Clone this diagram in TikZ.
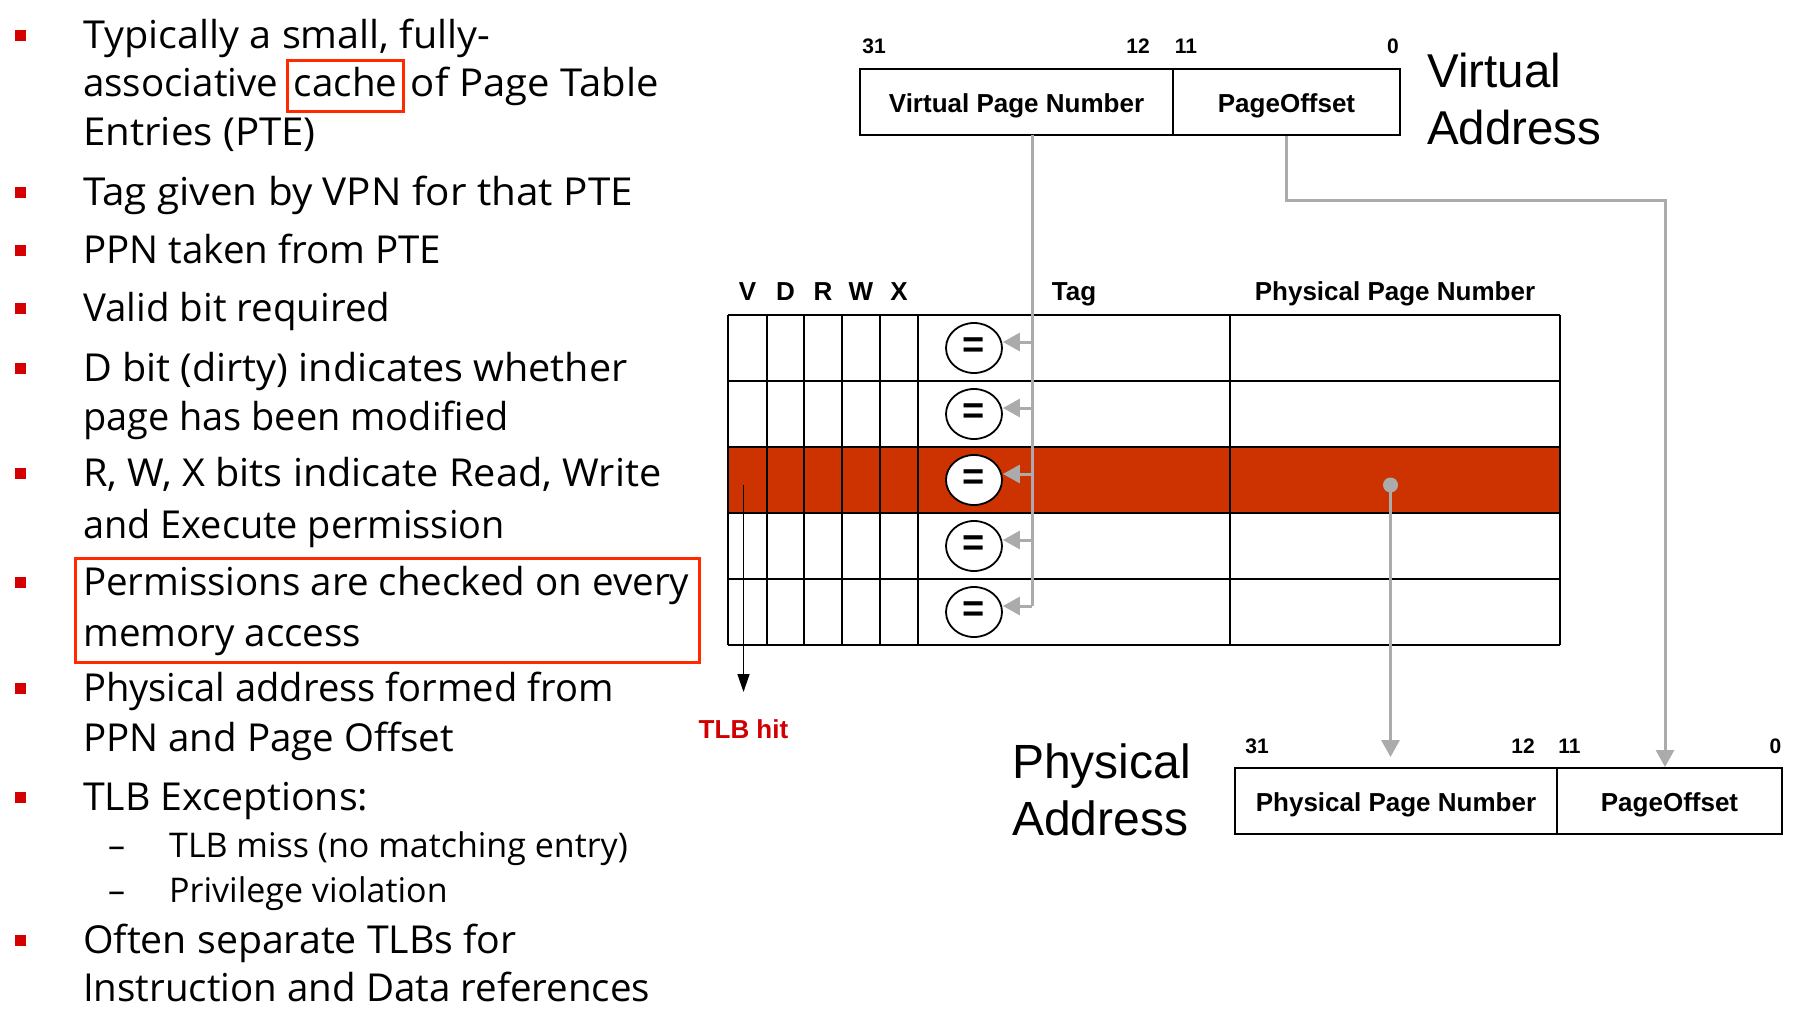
\documentclass[tikz,border=0pt]{standalone}
\usepackage{fontspec}
\setmainfont{Open Sans}
\newfontfamily\arialf{Liberation Sans}
\usetikzlibrary{arrows.meta,shapes.geometric,calc}
\definecolor{hitred}{HTML}{CC3300}
\definecolor{bulred}{HTML}{D40000}
\definecolor{boxred}{HTML}{FF2A00}
\definecolor{tlbred}{HTML}{D00000}
\definecolor{lgray}{HTML}{ABABAB}
\tikzset{
 body/.style={anchor=base west, inner sep=0pt, font=\fontsize{38.5}{46}\selectfont},
 subtext/.style={anchor=base west, inner sep=0pt, font=\fontsize{34}{40}\selectfont},
 bul/.style={fill=bulred, minimum size=11pt, inner sep=0pt},
 field/.style={draw, line width=2pt, minimum height=66pt, inner sep=0pt, text height=20.6pt, text depth=0pt, font=\arialf\bfseries\fontsize{26}{30}\selectfont},
 bitno/.style={anchor=base, inner sep=0pt, font=\arialf\bfseries\fontsize{21}{24}\selectfont},
 bigtext/.style={anchor=base west, inner sep=0pt, font=\arialf\fontsize{47.5}{55}\selectfont},
 hdr/.style={anchor=base, inner sep=0pt, font=\arialf\bfseries\fontsize{26}{30}\selectfont},
 eqc/.style={ellipse, draw, line width=1.8pt, fill=white, minimum width=56pt, minimum height=50pt, inner sep=0pt, font=\arialf\bfseries\fontsize{38}{40}\selectfont},
 gline/.style={draw=lgray, line width=3pt},
 garrow/.style={gline, -{Triangle[length=17pt,width=18pt]}},
 barrow/.style={draw=black, line width=1.5pt, -{Triangle[length=18pt,width=12pt]}},
 hilite/.style={draw=boxred, line width=3pt},
 rowline/.style={line width=2.5pt},
 colline/.style={line width=1.6pt}
}
\newcommand{\wscale}[2]{\scalebox{#1}[1]{#2}}
\begin{document}
\begin{tikzpicture}[x=1pt,y=-1pt]
\useasboundingbox (0,0) rectangle (1802,1022);
\fill[white] (0,0) rectangle (1802,1022);

% ---------------- left bullet list ----------------
\foreach \b [count=\i] in {48.3,205,263.5,321.5,381.5,486.5,595,701.5,810,953.3}
  \node[bul] (bul\i) at (20.5,\b-13) {};

\node[body] (l1) at (83,48.3) {\wscale{1.029}{Typically a small, fully-}};
\node[body] (l2a) at (83,96.7) {associative};
\node[body, hilite, inner xsep=6pt, inner ysep=0pt, text height=36.5pt, text depth=14.5pt] (cache) at ([xshift=8pt]l2a.base east) {cache};
\node[body] (l2b) at ([xshift=6pt]cache.base east) {\wscale{1.04}{of Page Table}};
\node[body] (l3) at (83,146) {\wscale{1.045}{Entries (PTE)}};
\node[body] (l4) at (83,205) {\wscale{1.05}{Tag given by VPN for that PTE}};
\node[body] (l5) at (83,263.5) {PPN taken from PTE};
\node[body] (l6) at (83,321.5) {Valid bit required};
\node[body] (l7) at (83,381.5) {\wscale{1.028}{D bit (dirty) indicates whether}};
\node[body] (l8) at (83,430.5) {\wscale{0.985}{page has been modified}};
\node[body] (l9) at (83,486.5) {\wscale{1.03}{R, W, X bits indicate Read, Write}};
\node[body] (l10) at (83,538.5) {\wscale{0.985}{and Execute permission}};
\node[body] (l11) at (83,595) {Permissions are checked on every};
\node[body] (l12) at (83,646.5) {memory access};
\draw[hilite] (75,558) rectangle (699,662);
\node[body] (l13) at (83,701.5) {\wscale{0.99}{Physical address formed from}};
\node[body] (l14) at (83,751.5) {PPN and Page Offset};
\node[body] (l15) at (83,810) {\wscale{1.02}{TLB Exceptions:}};
\node[subtext] (d1) at (108,857) {–};
\node[subtext] (l16) at (169,857) {TLB miss (no matching entry)};
\node[subtext] (d2) at (108,902) {–};
\node[subtext] (l17) at (169,902) {Privilege violation};
\node[body] (l18) at (83,953.3) {\wscale{1.02}{Often separate TLBs for}};
\node[body] (l19) at (83,1001.7) {Instruction and Data references};

% ---------------- virtual address register ----------------
\node[field, minimum width=313pt] (vpn) at (1016.5,102) {Virtual Page Number};
\node[field, minimum width=227pt] (po) at (1286.5,102) {PageOffset};
\node[bitno] (v31) at (874,54) {31};
\node[bitno] (v12) at (1138,54) {12};
\node[bitno] (v11) at (1186,54) {11};
\node[bitno] (v0) at (1393,54) {0};
\node[bigtext] (va1) at (1427,88) {Virtual};
\node[bigtext] (va2) at (1427,145) {Address};

% ---------------- TLB table ----------------
\fill[hitred] (728,447) rectangle (1560,513);
\foreach \yy in {315,381,447,513,579,645}
  \draw[rowline] (728,\yy) -- (1560,\yy);
\foreach \xx in {728,767,804,842,880,918,1230,1560}
  \draw[colline] (\xx,315) -- (\xx,645);
\node[hdr] (hV) at (747.5,300) {V};
\node[hdr] (hD) at (785.5,300) {D};
\node[hdr] (hR) at (823,300) {R};
\node[hdr] (hW) at (861,300) {W};
\node[hdr] (hX) at (899,300) {X};
\node[hdr] (hTag) at (1074,300) {Tag};
\node[hdr] (hPPN) at (1395,300) {Physical Page Number};

\foreach \cy [count=\i] in {348,414,480,546,612}
  \node[eqc] (c\i) at (974,\cy) {=};

% VPN comparator feed
\coordinate (vd) at (1032,135);
\foreach \i/\ay in {1/342,2/408,3/474,4/540,5/606}
  \coordinate (a\i) at (1032,\ay);
\draw[gline] (vd) -- (a5);
\foreach \i in {1,...,5}
  \draw[garrow] (a\i) -- (c\i.east |- a\i);

% TLB hit
\coordinate (hitstart) at (743.5,485);
\coordinate (hittip) at (743.5,692);
\draw[barrow] (hitstart) -- (hittip);
\node[anchor=base, inner sep=0pt, text=tlbred, font=\arialf\bfseries\fontsize{26}{30}\selectfont] (hit) at (743.5,738) {TLB hit};

% ---------------- physical address register ----------------
\node[field, minimum width=322pt] (ppn) at (1396,801) {Physical Page Number};
\node[field, minimum width=225pt] (po2) at (1669.5,801) {PageOffset};
\node[bitno] (p31) at (1257,753) {31};
\node[bitno] (p12) at (1523,753) {12};
\node[bitno] (p11) at (1569.5,753) {11};
\node[bitno] (p0) at (1775.5,753) {0};
\node[bigtext, font=\arialf\fontsize{48}{55}\selectfont] (pa1) at (1012,778) {Physical};
\node[bigtext, font=\arialf\fontsize{48}{55}\selectfont] (pa2) at (1012,835) {Address};

% PPN path
\node[circle, fill=lgray, minimum size=15pt, inner sep=0pt] (dot) at (1390.5,485) {};
\coordinate (ppntip) at (1390.5,757);
\draw[garrow] (dot.center) -- (ppntip);

% page offset path
\coordinate (pobend) at (1665,200);
\draw[garrow] (po.south) |- (pobend) -- (po2.north -| pobend);
\end{tikzpicture}
\end{document}
